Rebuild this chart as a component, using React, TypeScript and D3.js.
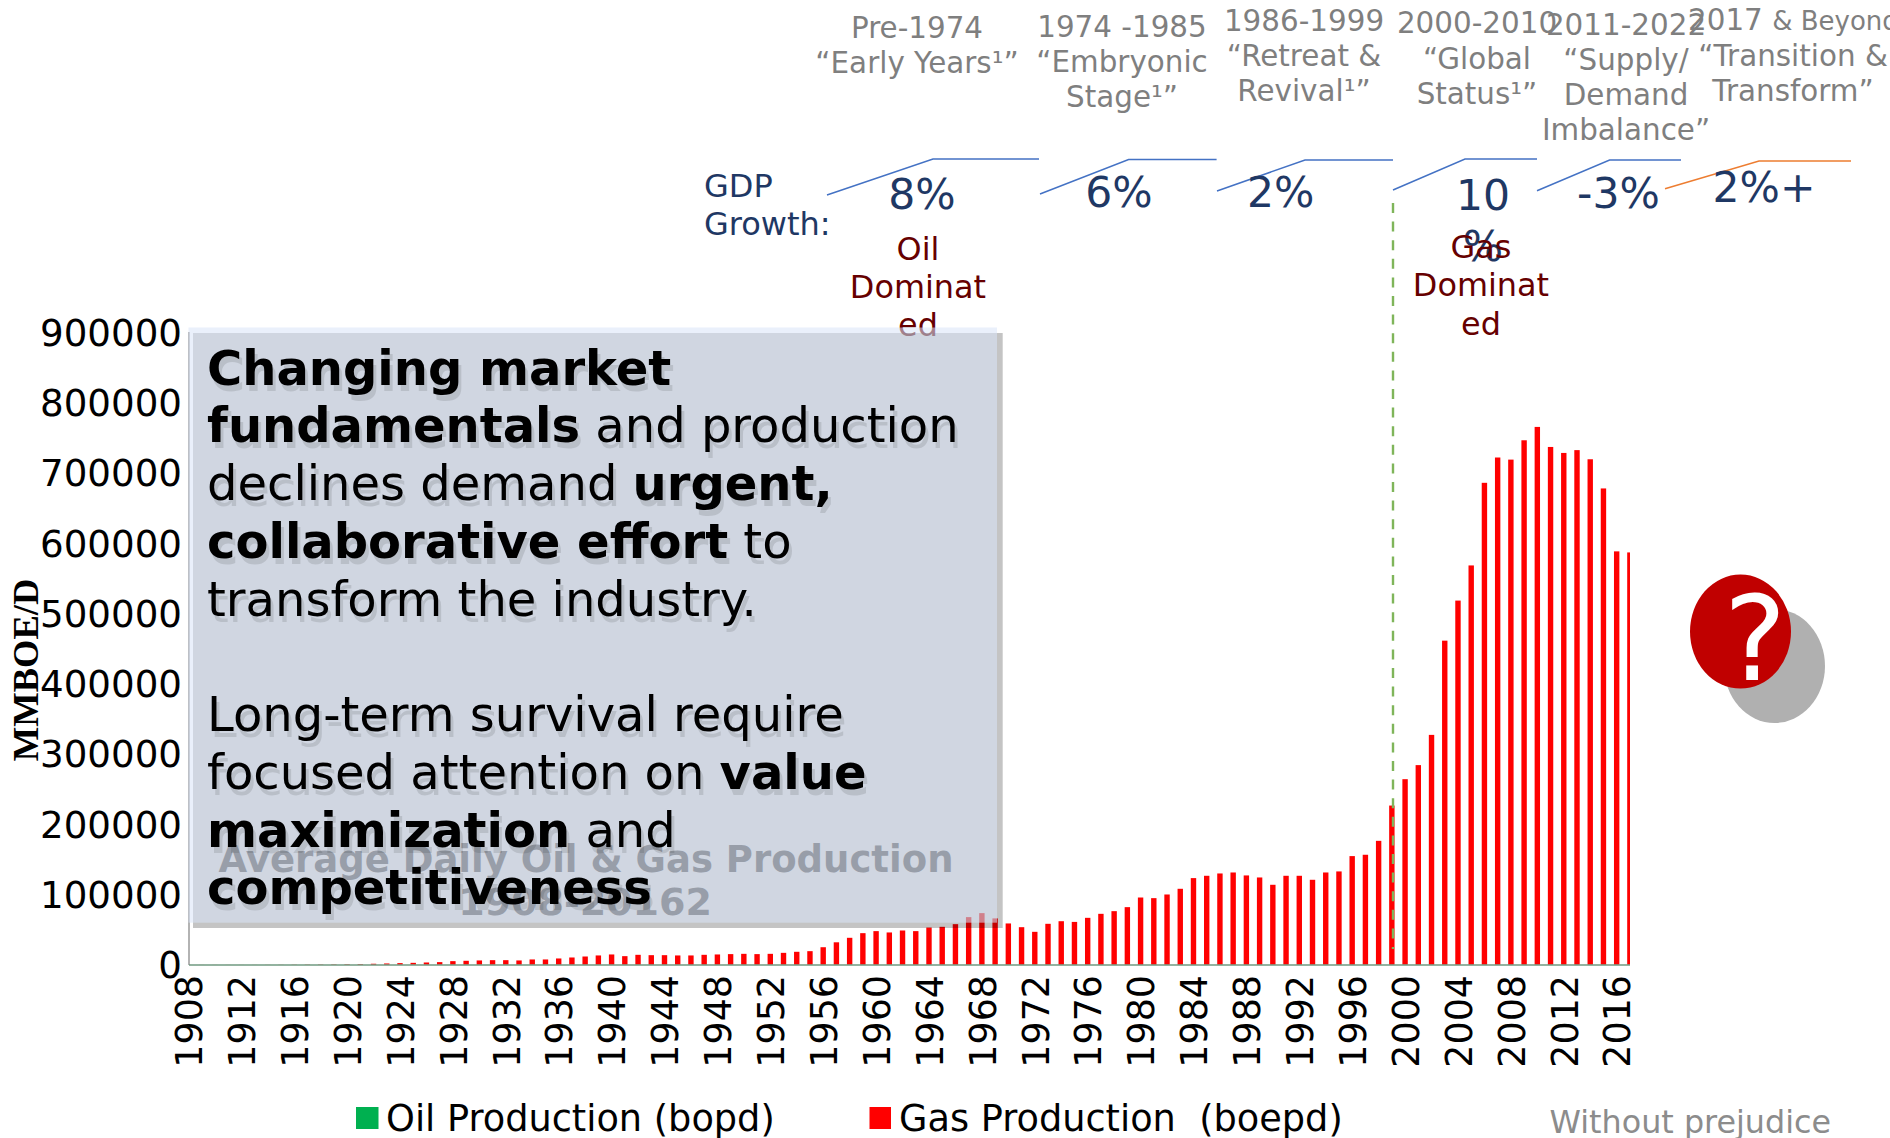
import React from "react";
import * as d3 from "d3";

const FONT = "'DejaVu Sans', sans-serif";

const gasProduction: [number, number][] = [
  [1908,100],[1909,100],[1910,100],[1911,100],[1912,100],[1913,100],[1914,150],[1915,200],[1916,300],[1917,400],
  [1918,500],[1919,600],[1920,800],[1921,1000],[1922,1500],[1923,1900],[1924,2400],[1925,2800],[1926,3300],[1927,3800],
  [1928,5200],[1929,5700],[1930,6200],[1931,6600],[1932,6600],[1933,6200],[1934,7600],[1935,7600],[1936,9000],[1937,10400],
  [1938,11800],[1939,13300],[1940,14700],[1941,12300],[1942,14200],[1943,13700],[1944,13700],[1945,13300],[1946,13300],[1947,14200],
  [1948,14700],[1949,15200],[1950,15600],[1951,15200],[1952,15600],[1953,17000],[1954,18500],[1955,19400],[1956,25000],[1957,32000],
  [1958,38400],[1959,45000],[1960,47900],[1961,46000],[1962,48800],[1963,47900],[1964,53000],[1965,54000],[1966,57800],[1967,67800],
  [1968,73500],[1969,66000],[1970,58800],[1971,53500],[1972,46900],[1973,58300],[1974,62000],[1975,61000],[1976,66800],[1977,72500],
  [1978,76300],[1979,82000],[1980,95700],[1981,94800],[1982,100000],[1983,108100],[1984,123300],[1985,126600],[1986,129900],[1987,131300],
  [1988,127100],[1989,124200],[1990,113800],[1991,126600],[1992,126600],[1993,120900],[1994,131300],[1995,132800],[1996,154600],[1997,156500],
  [1998,176300],[1999,226500],[2000,264000],[2001,284000],[2002,327000],[2003,461000],[2004,518000],[2005,568000],[2006,685500],[2007,721500],
  [2008,718500],[2009,746000],[2010,765000],[2011,736500],[2012,728000],[2013,732000],[2014,719000],[2015,677500],[2016,588000],[2017,586500],
];
const yTicks = [0,100000,200000,300000,400000,500000,600000,700000,800000,900000];
const xTicks = d3.range(1908, 2017, 4);

const legendLabels = ["Oil Production (bopd)", "Gas Production  (boepd)"];
const chartTitle = ["Average Daily Oil & Gas Production", "1908-20162"];

const eras: { cx: number; lines: string[]; base: number[] }[] = [
  { cx: 917, lines: ["Pre-1974", "“Early Years¹”"], base: [38, 73] },
  { cx: 1122, lines: ["1974 -1985", "“Embryonic", "Stage¹”"], base: [36.5, 72, 107] },
  { cx: 1304, lines: ["1986-1999", "“Retreat &", "Revival¹”"], base: [31, 66, 101] },
  { cx: 1477, lines: ["2000-2010", "“Global", "Status¹”"], base: [33, 68.5, 103.5] },
  { cx: 1626, lines: ["2011-2022", "“Supply/", "Demand", "Imbalance”"], base: [34.5, 69.8, 104.5, 139.5] },
  { cx: 1793, lines: ["", "“Transition &", "Transform”"], base: [30, 66, 101] },
];
const gdpSegments: { pts: [number, number][]; color: string }[] = [
  { pts: [[827,195],[933,159],[1039,159]], color: "#4472c4" },
  { pts: [[1040,194],[1128.6,159.5],[1216.6,159.5]], color: "#4472c4" },
  { pts: [[1217,191],[1305,160],[1393,160]], color: "#4472c4" },
  { pts: [[1393,190],[1465,159],[1537,159]], color: "#4472c4" },
  { pts: [[1537,190.7],[1609.6,160],[1681,160]], color: "#4472c4" },
  { pts: [[1665,188.7],[1759,161],[1851,161]], color: "#ed7d31" },
];
const gdpValues: { cx: number; lines: string[]; base: number[] }[] = [
  { cx: 922, lines: ["8%"], base: [208.5] },
  { cx: 1119, lines: ["6%"], base: [206.5] },
  { cx: 1280.6, lines: ["2%"], base: [206.5] },
  { cx: 1483, lines: ["10", "%"], base: [209.5, 260.7] },
  { cx: 1618.5, lines: ["-3%"], base: [207.5] },
  { cx: 1764, lines: ["2%+"], base: [202] },
];
const dominated: { cx: number; lines: string[]; base: number[] }[] = [
  { cx: 918, lines: ["Oil", "Dominat", "ed"], base: [259.5, 298, 336] },
  { cx: 1481, lines: ["Gas", "Dominat", "ed"], base: [257.5, 296, 334.5] },
];
type Run = { t: string; b?: boolean };
const boxLines: { y: number; runs: Run[] }[] = [
  { y: 384.5, runs: [{ t: "Changing market", b: true }] },
  { y: 442.4, runs: [{ t: "fundamentals", b: true }, { t: " and production" }] },
  { y: 500.2, runs: [{ t: "declines demand " }, { t: "urgent,", b: true }] },
  { y: 558, runs: [{ t: "collaborative effort", b: true }, { t: " to" }] },
  { y: 615.8, runs: [{ t: "transform the industry." }] },
  { y: 731, runs: [{ t: "Long-term survival require" }] },
  { y: 788.8, runs: [{ t: "focused attention on " }, { t: "value", b: true }] },
  { y: 846.6, runs: [{ t: "maximization", b: true }, { t: " and" }] },
  { y: 904.4, runs: [{ t: "competitiveness", b: true }] },
];

const x = d3.scaleLinear().domain([1908, 2017]).range([188.4, 1629.9]);
const y = d3.scaleLinear().domain([0, 900000]).range([964.8, 332]);
const linePath = d3.line();
const BAR_W = 5.4;

export default function App() {
  return (
    <svg width={1890} height={1138} viewBox="0 0 1890 1138"
      style={{ position: "absolute", left: 0, top: 0, display: "block", background: "#fff", fontFamily: FONT }}>
      <defs>
        <clipPath id="plot"><rect x={189} y={300} width={1441} height={665} /></clipPath>
        <filter id="shadow" x="-5%" y="-5%" width="110%" height="120%">
          <feDropShadow dx={3} dy={6} stdDeviation={0} floodColor="#000" floodOpacity={0.11} />
        </filter>
      </defs>

      {/* bars */}
      <g clipPath="url(#plot)">
        {gasProduction.map(([yr, v]) => (
          <rect key={yr} x={x(yr) - BAR_W / 2} y={y(v)} width={BAR_W} height={y(0) - y(v)} fill="#ff0000" />
        ))}
      </g>
      {/* axes */}
      <line x1={189} x2={189} y1={332} y2={965} stroke="#9a9a9a" strokeWidth={1.5} />
      <line x1={189} x2={1630} y1={965} y2={965} stroke="#6f9a80" strokeWidth={1.5} />
      {yTicks.map((t) => (
        <text key={t} x={182} y={y(t)} dy="0.365em" textAnchor="end" fontSize={37.2} fill="#000">{t}</text>
      ))}
      {xTicks.map((t) => (
        <text key={t} transform={`translate(${x(t) + 0.5},975) rotate(-90)`} dy="0.365em" textAnchor="end" fontSize={36.4} fill="#000">{t}</text>
      ))}
      <text transform="translate(38,670) rotate(-90)" textAnchor="middle" fontSize={36.5} fontWeight="bold"
        fontFamily="'Liberation Serif', serif" fill="#000">MMBOE/D</text>

      {/* chart title, seen through the box */}
      <text x={586} y={872} textAnchor="middle" fontSize={37} fontWeight="bold" fill="#595959">{chartTitle[0]}</text>
      <text x={585} y={915} textAnchor="middle" fontSize={38} fontWeight="bold" fill="#595959">{chartTitle[1]}</text>

      {/* legend */}
      <rect x={356} y={1107} width={22.5} height={22} fill="#00b050" />
      <text x={386} y={1130.5} fontSize={36.7} fill="#000">{legendLabels[0]}</text>
      <rect x={869.5} y={1107} width={21.5} height={22} fill="#ff0000" />
      <text x={899} y={1130.5} fontSize={36.7} fill="#000" style={{ whiteSpace: "pre" }}>{legendLabels[1]}</text>
      <text x={1549.5} y={1132.5} fontSize={31.8} fill="#8c8c8c">Without prejudice</text>

      {/* era labels */}
      {eras.map((e, i) => e.lines.map((l, j) => l && (
        <text key={`${i}-${j}`} x={e.cx} y={e.base[j]} textAnchor="middle" fontSize={29.4} fill="#7f7f7f">{l}</text>
      )))}
      <text x={1688} y={30} fontSize={29.4} fill="#7f7f7f">2017 <tspan fontSize={26}>&amp; Beyond</tspan></text>

      {/* GDP */}
      <text x={704} y={197} fontSize={32} fill="#1f3864">GDP</text>
      <text x={704} y={235} fontSize={32} fill="#1f3864">Growth:</text>
      {gdpSegments.map((s, i) => (
        <path key={i} d={linePath(s.pts) as string} fill="none" stroke={s.color} strokeWidth={1.5} />
      ))}
      {gdpValues.map((g, i) => g.lines.map((l, j) => (
        <text key={`${i}-${j}`} x={g.cx} y={g.base[j]} textAnchor="middle" fontSize={42.5} fill="#1f3864">{l}</text>
      )))}
      {dominated.map((g, i) => g.lines.map((l, j) => (
        <text key={`${i}-${j}`} x={g.cx} y={g.base[j]} textAnchor="middle" fontSize={31.9} fill="#660000">{l}</text>
      )))}
      <line x1={1393} x2={1393} y1={203} y2={949} stroke="#7fb55a" strokeWidth={2.4} strokeDasharray="10 8.6" />

      {/* call-out */}
      <rect x={193} y={333} width={809.7} height={595} fill="#000" fillOpacity={0.23} />
      <rect x={188.5} y={327.5} width={808.5} height={595.2} fill="rgb(218,228,247)" fillOpacity={0.56} />
      <g filter="url(#shadow)">
        {boxLines.map((l, i) => (
          <text key={i} x={207} y={l.y} fontSize={48} fill="#000" style={{ whiteSpace: "pre" }}>
            {l.runs.map((r, k) => (
              <tspan key={k} fontWeight={r.b ? "bold" : "normal"}>{r.t}</tspan>
            ))}
          </text>
        ))}
      </g>

      {/* question mark */}
      <ellipse cx={1774.5} cy={666} rx={50.5} ry={57} fill="#b0b0b0" />
      <ellipse cx={1740.5} cy={631.6} rx={50.5} ry={57} fill="#c00000" />
      <text x={1755} y={680} textAnchor="middle" fontSize={118} fill="#fff">?</text>
    </svg>
  );
}
